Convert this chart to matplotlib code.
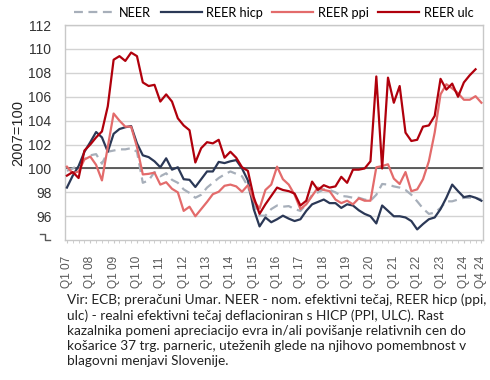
import numpy as np
import matplotlib
matplotlib.use('Agg')
import matplotlib.pyplot as plt
import matplotlib.transforms as mtrans

# quarterly indices, 2007=100, Q1 07 .. Q4 24
years = list(range(7, 25))
quarters = [f'Q{q} {y:02d}' for y in years for q in range(1, 5)]

neer = [99.8, 100.0, 100.3, 100.8, 101.1, 101.2, 100.4, 101.4, 101.5, 101.6, 101.6, 101.7,
        101.4, 98.8, 99.0, 99.7, 99.35, 99.6, 99.05, 98.8, 98.25, 97.95, 97.55, 97.8,
        98.4, 98.8, 99.2, 99.5, 99.75, 99.55, 99.35, 98.5, 97.0, 96.05, 96.05, 96.6,
        96.9, 96.8, 96.85, 96.6, 96.45, 97.0, 97.8, 98.0, 98.25, 98.2, 98.0, 97.7,
        97.65, 97.55, 97.55, 97.4, 97.3, 97.8, 98.7, 98.65, 98.5, 98.4, 98.2, 97.8,
        97.25, 96.65, 96.2, 96.3, 96.7, 97.25, 97.25, 97.4, 97.55, 97.55, 97.55, 97.4]

reer_hicp = [98.4, 99.4, 100.2, 101.4, 102.2, 103.05, 102.6, 101.4, 102.9, 103.3, 103.45, 103.55,
             102.1, 101.1, 100.95, 100.6, 100.1, 100.85, 99.9, 100.1, 99.1, 99.05, 98.45, 99.1,
             99.75, 99.75, 100.55, 100.45, 100.6, 100.7, 100.0, 99.0, 96.6, 95.15, 95.9, 95.5,
             95.75, 96.05, 95.8, 95.6, 95.75, 96.45, 97.0, 97.2, 97.4, 97.1, 97.1, 96.7,
             97.0, 96.9, 96.5, 96.2, 96.0, 95.4, 96.9, 96.45, 96.0, 96.0, 95.9, 95.6,
             94.9, 95.35, 95.75, 95.9, 96.6, 97.55, 98.65, 98.1, 97.6, 97.7, 97.55, 97.3]

reer_ppi = [100.15, 99.6, 99.75, 100.75, 101.0, 100.3, 99.0, 101.8, 104.6, 104.0, 103.5, 103.5,
            101.8, 99.5, 99.55, 99.65, 98.65, 98.85, 98.3, 98.0, 96.45, 96.8, 96.0, 96.6,
            97.2, 97.85, 98.05, 98.55, 98.65, 98.5, 98.05, 98.6, 97.3, 96.65, 98.2, 98.65,
            100.15, 99.1, 98.65, 97.8, 96.6, 97.0, 97.7, 98.4, 98.2, 98.1, 97.4, 97.1,
            97.3, 97.0, 97.5, 97.3, 97.3, 100.1, 100.2, 100.35, 99.15, 98.7, 99.7, 98.1,
            98.25, 99.1, 100.6, 103.0, 106.2, 107.05, 106.7, 106.3, 105.75, 105.75, 106.05, 105.5]

# ulc ends one quarter earlier (Q3 24)
reer_ulc = [99.4, 99.7, 99.2, 101.5, 102.0, 102.6, 103.1, 105.2, 109.1, 109.4, 109.0, 109.7,
            109.4, 107.2, 106.9, 107.0, 105.6, 106.2, 105.6, 104.2, 103.6, 103.2, 100.5, 101.7,
            102.2, 102.1, 102.4, 100.9, 101.4, 100.9, 100.1, 99.8, 97.6, 96.2, 97.0, 97.7,
            98.4, 98.2, 98.1, 97.9, 96.9, 97.3, 98.9, 98.2, 98.6, 98.4, 98.5, 99.3,
            98.8, 99.9, 99.9, 100.0, 100.6, 107.7, 100.0, 107.6, 105.5, 106.9, 103.0, 102.3,
            102.4, 103.5, 103.6, 104.4, 107.5, 106.6, 107.1, 106.0, 107.2, 107.8, 108.3]

SERIES_STYLING = [
    ('NEER', neer, {'color': '#A7AFBA', 'linewidth': 1.6, 'dashes': (4, 2.5)}),
    ('REER hicp', reer_hicp, {'color': '#2B3856', 'linewidth': 1.6}),
    ('REER ppi', reer_ppi, {'color': '#E36B6B', 'linewidth': 1.6}),
    ('REER ulc', reer_ulc, {'color': '#B0000C', 'linewidth': 1.6}),
]

FOOTNOTE = ('Vir: ECB; preračuni Umar. NEER - nom. efektivni tečaj, REER hicp (ppi,\n'
            'ulc) - realni efektivni tečaj deflacioniran s HICP (PPI, ULC). Rast\n'
            'kazalnika pomeni apreciacijo evra in/ali povišanje relativnih cen do\n'
            'košarice 37 trg. parneric, uteženih glede na njihovo pomembnost v\n'
            'blagovni menjavi Slovenije.')

fig = plt.figure(figsize=(4.9, 3.8), dpi=100)
ax = fig.add_axes([0.133, 0.368, 0.853, 0.566])

for name, vals, style in SERIES_STYLING:
    ax.plot(np.arange(len(vals)), vals, label=name, zorder=3, **style)

ax.axhline(100, color='#454545', linewidth=1.2, zorder=2)

ax.set_ylim(94, 112)
ax.set_xlim(-0.3, len(quarters) - 0.7)
ax.set_yticks(np.arange(96, 113, 2))
ax.grid(axis='y', color='#D3D3D3', linewidth=1.0, zorder=0)
for s in ax.spines.values():
    s.set_color('#C8C8C8')
    s.set_linewidth(1.0)

major = list(range(0, len(quarters), 4)) + [len(quarters) - 1]
ax.set_xticks(major)
ax.set_xticklabels([quarters[i] for i in major], rotation=90, fontsize=8.6,
                   color='#595959', family='Liberation Sans')
ax.set_xticks(range(len(quarters)), minor=True)
ax.tick_params(axis='x', which='both', length=2.5, color='#C8C8C8', pad=9)
ax.tick_params(axis='y', length=0, labelsize=10, labelcolor='#333333', pad=10)
for lab in ax.get_yticklabels():
    lab.set_family('Liberation Sans')

# axis break mark where the 94 label would be
trans = mtrans.blended_transform_factory(ax.transAxes, ax.transData)
ax.plot([-0.060, -0.048, -0.048, -0.037], [94.5, 94.5, 94.0, 94.0],
        transform=trans, color='#595959', linewidth=1.0, clip_on=False)

ax.set_ylabel('2007=100', fontsize=10.5, family='Liberation Sans', color='#222222', labelpad=2)

fig.legend(loc='upper left', bbox_to_anchor=(0.127, 1.012), ncol=4, frameon=False,
           handlelength=3.2, columnspacing=0.75, handletextpad=0.35,
           prop={'family': 'Lato', 'size': 9.2})

fig.text(0.137, 0.228, FOOTNOTE, ha='left', va='top', fontsize=9.8,
         family='Lato', color='#222222', linespacing=1.3)

fig.savefig('out.png', dpi=100, facecolor='white')
